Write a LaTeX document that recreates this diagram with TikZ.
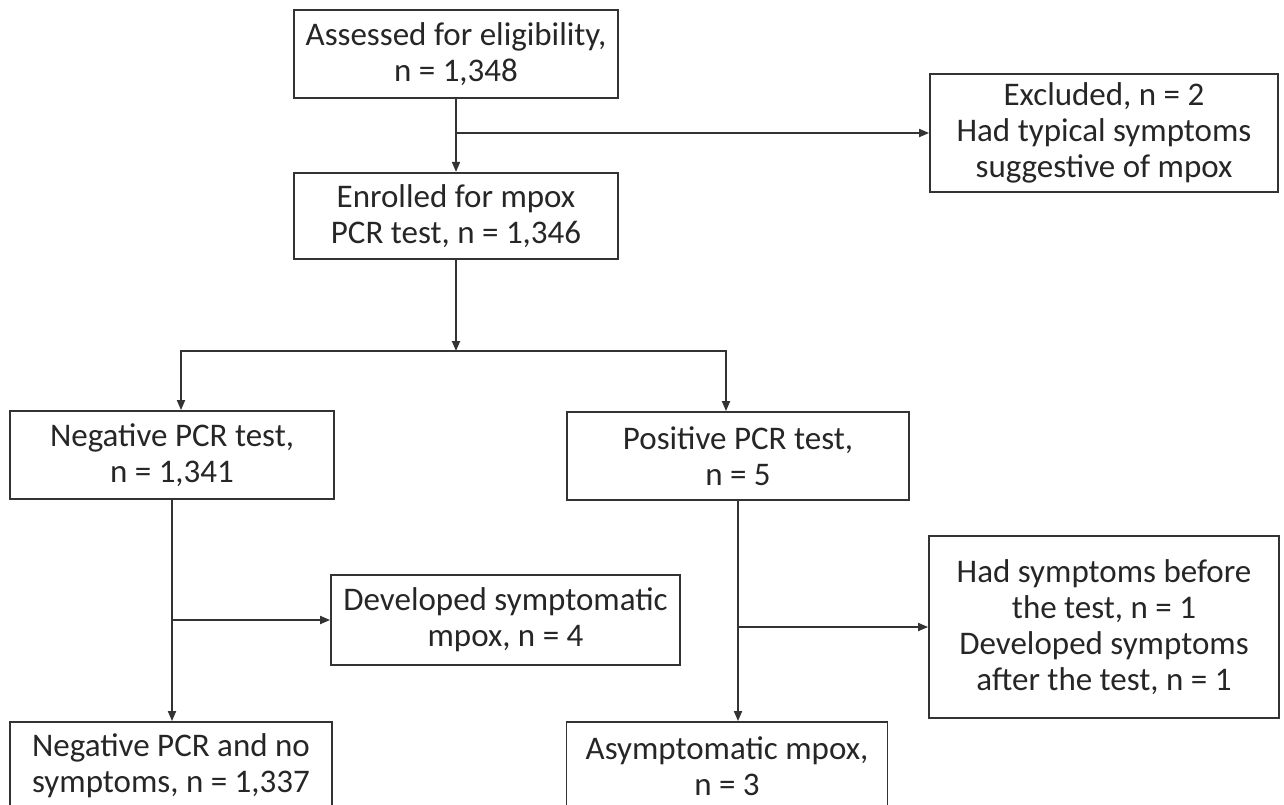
\documentclass[tikz,border=0pt]{standalone}
\usepackage{fontspec}
\setmainfont{Carlito}
\usetikzlibrary{arrows.meta, positioning, calc}

\begin{document}
\begin{tikzpicture}[x=0.5pt, y=-0.5pt,
		box/.style={draw=black!80,line width=0.9pt,rectangle,align=center,text=black!85,inner sep=0pt,font=\fontsize{16.5}{18}\selectfont},
		arr/.style={draw=black!80,line width=0.9pt,-{Triangle[length=5pt,width=4pt]}}
		]
		\clip (0,0) rectangle (1284,804);
		\node (ass) [box,minimum width=162pt,minimum height=44pt] at (456,54) {Assessed for eligibility,\\n = 1,348};
		\node (enr) [box,minimum width=162pt,minimum height=43pt,below=36.5pt of ass] {Enrolled for mpox\\PCR test, n = 1,346};
		\node (exc) [box,minimum width=174pt,minimum height=59pt] at (1104,133) {Excluded, n = 2\\Had typical symptoms\\suggestive of mpox};
		\coordinate (split) at (456,351);
		\node (neg) [box,minimum width=162pt,minimum height=44pt] at (172,455) {Negative PCR test,\\n = 1,341};
		\node (pos) [box,minimum width=171pt,minimum height=44pt] at (738,456) {Positive PCR test,\\n = 5};
		\node (dev) [box,minimum width=174.5pt,minimum height=45pt] at (505.5,620) {Developed symptomatic\\mpox, n = 4};
		\node (sym) [box,minimum width=175pt,minimum height=91pt] at (1104,627) {Had symptoms before\\the test, n = 1\\Developed symptoms\\after the test, n = 1};
		\node (nono) [box,minimum width=161pt,minimum height=44pt] at (171,766) {Negative PCR and no\\symptoms, n = 1,337};
		\node (asym) [box,minimum width=160.5pt,minimum height=44pt] at (727,766) {Asymptomatic mpox,\\n = 3};
		\draw [arr] (ass) -- (enr);
		\draw [arr] (ass.south |- exc.west) -- (exc.west);
		\draw [arr] (enr) -- (split);
		\draw [arr] (split) -| ([xshift=4.5pt]neg.north);
		\draw [arr] (split) -| ([xshift=-6pt]pos.north);
		\draw [arr] (neg.south) -- (neg.south |- nono.north);
		\draw [arr] (neg.south |- dev.west) -- (dev.west);
		\draw [arr] (pos.south) -- (pos.south |- asym.north);
		\draw [arr] (pos.south |- sym.west) -- (sym.west);
	
	\end{tikzpicture}
\end{document}
